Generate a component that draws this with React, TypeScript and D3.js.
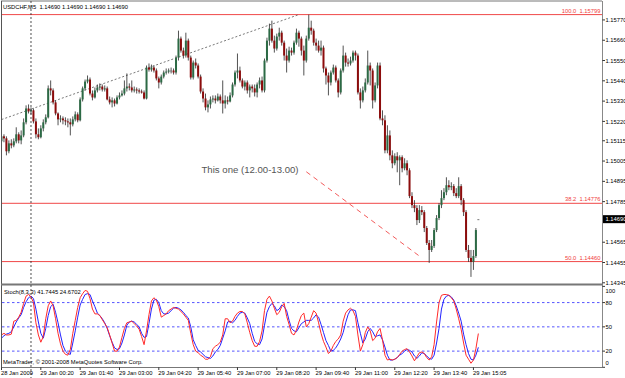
import React from 'react';
import * as d3 from 'd3';

const W = 625;
const H = 378;

// ---- price bars (USDCHF, M5) ----
const barOpen = [
  1.15112,1.15139,1.15128,1.15058,1.15101,1.15090,1.15112,1.15150,1.15117,1.15144,
  1.15215,1.15290,1.15274,1.15280,1.15220,1.15150,1.15134,1.15182,1.15215,1.15242,
  1.15399,1.15388,1.15323,1.15263,1.15231,1.15236,1.15226,1.15220,1.15215,1.15204,
  1.15231,1.15258,1.15226,1.15339,1.15399,1.15436,1.15447,1.15371,1.15350,1.15388,
  1.15404,1.15409,1.15393,1.15399,1.15339,1.15323,1.15334,1.15317,1.15350,1.15361,
  1.15371,1.15399,1.15409,1.15404,1.15388,1.15393,1.15388,1.15382,1.15377,1.15344,
  1.15512,1.15501,1.15512,1.15496,1.15453,1.15431,1.15463,1.15485,1.15490,1.15496,
  1.15496,1.15485,1.15566,1.15669,1.15604,1.15577,1.15658,1.15566,1.15458,1.15539,
  1.15523,1.15463,1.15382,1.15344,1.15296,1.15312,1.15339,1.15344,1.15334,1.15355,
  1.15334,1.15317,1.15334,1.15328,1.15361,1.15420,1.15485,1.15496,1.15442,1.15409,
  1.15431,1.15388,1.15409,1.15399,1.15377,1.15420,1.15442,1.15388,1.15550,1.15658,
  1.15723,1.15658,1.15615,1.15680,1.15701,1.15647,1.15577,1.15550,1.15604,1.15593,
  1.15647,1.15701,1.15669,1.15604,1.15550,1.15669,1.15728,1.15712,1.15647,1.15631,
  1.15604,1.15620,1.15507,1.15469,1.15431,1.15485,1.15512,1.15442,1.15377,1.15496,
  1.15577,1.15539,1.15534,1.15550,1.15593,1.15577,1.15377,1.15334,1.15388,1.15431,
  1.15523,1.15496,1.15334,1.15415,1.15523,1.15236,1.15226,1.15063,1.15144,1.15036,
  1.14993,1.15031,1.15009,1.15026,1.14966,1.14993,1.14955,1.14815,1.14766,1.14750,
  1.14685,1.14739,1.14728,1.14642,1.14561,1.14523,1.14545,1.14631,1.14696,1.14766,
  1.14804,1.14836,1.14874,1.14863,1.14869,1.14831,1.14815,1.14869,1.14793,1.14728,
  1.14523,1.14480,1.14458,1.14490,1.14690,
];
const barHigh = [
  1.15155,1.15150,1.15139,1.15117,1.15123,1.15128,1.15188,1.15161,1.15171,1.15236,
  1.15307,1.15312,1.15296,1.15290,1.15236,1.15182,1.15199,1.15231,1.15258,1.15415,
  1.15442,1.15399,1.15334,1.15269,1.15253,1.15247,1.15242,1.15236,1.15236,1.15247,
  1.15274,1.15269,1.15350,1.15409,1.15447,1.15469,1.15458,1.15388,1.15404,1.15420,
  1.15426,1.15420,1.15415,1.15409,1.15355,1.15350,1.15344,1.15361,1.15377,1.15388,
  1.15442,1.15480,1.15426,1.15442,1.15409,1.15404,1.15399,1.15393,1.15388,1.15523,
  1.15534,1.15528,1.15523,1.15507,1.15463,1.15474,1.15496,1.15507,1.15507,1.15512,
  1.15507,1.15577,1.15712,1.15680,1.15620,1.15701,1.15669,1.15577,1.15550,1.15561,
  1.15534,1.15474,1.15399,1.15371,1.15334,1.15355,1.15361,1.15361,1.15371,1.15366,
  1.15442,1.15361,1.15355,1.15377,1.15431,1.15496,1.15588,1.15517,1.15453,1.15442,
  1.15442,1.15420,1.15420,1.15420,1.15431,1.15458,1.15463,1.15561,1.15674,1.15750,
  1.15766,1.15685,1.15696,1.15728,1.15712,1.15658,1.15615,1.15625,1.15620,1.15658,
  1.15723,1.15712,1.15680,1.15631,1.15685,1.15799,1.15766,1.15723,1.15669,1.15658,
  1.15658,1.15631,1.15517,1.15485,1.15496,1.15528,1.15523,1.15453,1.15507,1.15631,
  1.15593,1.15561,1.15571,1.15604,1.15604,1.15588,1.15399,1.15409,1.15453,1.15604,
  1.15539,1.15507,1.15431,1.15539,1.15539,1.15280,1.15253,1.15199,1.15171,1.15063,
  1.15047,1.15053,1.15036,1.15036,1.15020,1.15009,1.14966,1.14836,1.14793,1.14766,
  1.14766,1.14761,1.14739,1.14653,1.14577,1.14577,1.14642,1.14712,1.14777,1.14847,
  1.14858,1.14917,1.14901,1.14890,1.14880,1.14858,1.14917,1.14880,1.14804,1.14739,
  1.14550,1.14523,1.14523,1.14642,1.14690,
];
const barLow = [
  1.15101,1.15107,1.15036,1.15047,1.15074,1.15080,1.15101,1.15101,1.15096,1.15134,
  1.15204,1.15263,1.15258,1.15209,1.15128,1.15123,1.15128,1.15166,1.15204,1.15236,
  1.15361,1.15312,1.15253,1.15199,1.15215,1.15204,1.15199,1.15188,1.15144,1.15193,
  1.15220,1.15215,1.15220,1.15328,1.15388,1.15426,1.15361,1.15334,1.15344,1.15377,
  1.15388,1.15382,1.15382,1.15334,1.15312,1.15296,1.15301,1.15312,1.15339,1.15355,
  1.15361,1.15382,1.15388,1.15377,1.15377,1.15371,1.15371,1.15371,1.15339,1.15339,
  1.15490,1.15490,1.15485,1.15442,1.15399,1.15420,1.15453,1.15474,1.15480,1.15480,
  1.15474,1.15474,1.15550,1.15593,1.15561,1.15566,1.15550,1.15447,1.15447,1.15507,
  1.15453,1.15371,1.15323,1.15280,1.15269,1.15290,1.15323,1.15317,1.15328,1.15317,
  1.15263,1.15290,1.15312,1.15323,1.15350,1.15409,1.15453,1.15431,1.15399,1.15388,
  1.15371,1.15350,1.15377,1.15355,1.15350,1.15399,1.15377,1.15377,1.15539,1.15631,
  1.15647,1.15593,1.15604,1.15658,1.15631,1.15550,1.15485,1.15539,1.15577,1.15582,
  1.15636,1.15625,1.15577,1.15469,1.15539,1.15658,1.15690,1.15631,1.15604,1.15593,
  1.15577,1.15485,1.15420,1.15361,1.15415,1.15474,1.15431,1.15350,1.15366,1.15485,
  1.15517,1.15517,1.15523,1.15539,1.15550,1.15366,1.15290,1.15323,1.15377,1.15420,
  1.15415,1.15290,1.15323,1.15399,1.15226,1.15199,1.15047,1.15047,1.15009,1.14966,
  1.14982,1.14944,1.14874,1.14944,1.14955,1.14928,1.14804,1.14750,1.14728,1.14658,
  1.14669,1.14712,1.14620,1.14550,1.14453,1.14512,1.14534,1.14620,1.14685,1.14750,
  1.14793,1.14820,1.14847,1.14847,1.14815,1.14804,1.14804,1.14766,1.14707,1.14512,
  1.14458,1.14377,1.14415,1.14480,1.14690,
];
const barClose = [
  1.15139,1.15128,1.15058,1.15101,1.15090,1.15112,1.15150,1.15117,1.15144,1.15215,
  1.15290,1.15274,1.15280,1.15220,1.15150,1.15134,1.15182,1.15215,1.15242,1.15399,
  1.15388,1.15323,1.15263,1.15231,1.15236,1.15226,1.15220,1.15215,1.15204,1.15231,
  1.15258,1.15226,1.15339,1.15399,1.15436,1.15447,1.15371,1.15350,1.15388,1.15404,
  1.15409,1.15393,1.15399,1.15339,1.15323,1.15334,1.15317,1.15350,1.15361,1.15371,
  1.15399,1.15409,1.15404,1.15388,1.15393,1.15388,1.15382,1.15377,1.15344,1.15512,
  1.15501,1.15512,1.15496,1.15453,1.15431,1.15463,1.15485,1.15490,1.15496,1.15496,
  1.15485,1.15566,1.15669,1.15604,1.15577,1.15658,1.15566,1.15458,1.15539,1.15523,
  1.15463,1.15382,1.15344,1.15296,1.15312,1.15339,1.15344,1.15334,1.15355,1.15334,
  1.15317,1.15334,1.15328,1.15361,1.15420,1.15485,1.15496,1.15442,1.15409,1.15431,
  1.15388,1.15409,1.15399,1.15377,1.15420,1.15442,1.15388,1.15550,1.15658,1.15723,
  1.15658,1.15615,1.15680,1.15701,1.15647,1.15577,1.15550,1.15604,1.15593,1.15647,
  1.15701,1.15669,1.15604,1.15550,1.15669,1.15728,1.15712,1.15647,1.15631,1.15604,
  1.15620,1.15507,1.15469,1.15431,1.15485,1.15512,1.15442,1.15377,1.15496,1.15577,
  1.15539,1.15534,1.15550,1.15593,1.15577,1.15377,1.15334,1.15388,1.15431,1.15523,
  1.15496,1.15334,1.15415,1.15523,1.15236,1.15226,1.15063,1.15144,1.15036,1.14993,
  1.15031,1.15009,1.15026,1.14966,1.14993,1.14955,1.14815,1.14766,1.14750,1.14685,
  1.14739,1.14728,1.14642,1.14561,1.14523,1.14545,1.14631,1.14696,1.14766,1.14804,
  1.14836,1.14874,1.14863,1.14869,1.14831,1.14815,1.14869,1.14793,1.14728,1.14523,
  1.14480,1.14458,1.14490,1.14631,1.14690,
];

// ---- Stochastic (8,3,3) ----
const stochMain = [
  40,42,40,40,41,57,58,62,68,79,
  88,90,87,80,55,40,31,38,60,76,
  82,76,60,42,29,20,16,15,22,42,
  58,74,86,91,95,94,85,72,66,66,
  64,59,54,49,40,30,20,20,25,37,
  48,55,56,57,54,51,47,38,28,45,
  65,82,86,83,75,62,64,66,70,72,
  74,73,72,69,66,62,58,42,28,20,
  18,15,13,10,10,13,23,26,28,31,
  40,60,60,55,57,63,67,69,69,66,
  55,43,33,26,26,32,45,70,84,88,
  82,73,65,68,75,79,63,53,42,40,
  46,56,64,67,50,54,62,70,67,55,
  42,32,25,17,20,27,32,35,40,57,
  67,71,73,70,63,40,20,28,43,50,
  45,33,36,44,48,34,15,9,10,9,
  10,12,16,20,22,23,19,14,8,13,
  18,19,17,12,9,13,28,56,80,89,
  90,90,89,86,82,72,60,47,30,15,
  10,5,9,23,41.7445,
];
const stochSignal = [
  36,39,41,42,44,50,56,61,65,74,
  81,86,88,85,72,56,42,36,48,64,
  75,78,68,55,40,27,20,17,16,30,
  45,62,77,84,90,91,90,82,75,67,
  64,60,55,48,39,31,24,22,23,30,
  40,52,56,57,56,53,50,42,37,38,
  54,72,83,84,80,70,66,66,67,70,
  73,74,73,71,68,64,61,50,34,27,
  21,19,16,13,12,11,14,19,22,27,
  36,45,56,57,55,58,63,67,68,67,
  61,54,42,32,29,28,35,52,68,75,
  79,76,70,72,77,75,70,58,48,45,
  44,49,54,56,58,58,58,61,65,62,
  53,43,33,27,20,21,24,29,35,43,
  55,65,71,71,70,55,42,30,35,44,
  48,44,38,39,40,34,25,15,9,9,
  10,12,15,17,20,22,21,19,14,11,
  14,18,17,14,11,10,15,30,48,72,
  84,88,89,87,83,76,67,57,41,28,
  17,10,9,15,24.6702,
];

// ---- axes ----
// (1.14675 sits under the black last-price box, so it is not drawn)
const priceTicks = [1.15770,1.15660,1.15550,1.15440,1.15330,1.15220,1.15115,1.15005,1.14895,1.14785,1.14565,1.14455,1.14345];
const timeLabels = ['28 Jan 2009','29 Jan 00:20','29 Jan 01:40','29 Jan 03:00','29 Jan 04:20','29 Jan 05:40','29 Jan 07:00','29 Jan 08:20','29 Jan 09:40','29 Jan 11:00','29 Jan 12:20','29 Jan 13:40','29 Jan 15:05'];
const timeLabelBars = [0,16,32,48,64,80,96,112,128,144,160,176,192];
const stochTicks = [100,80,50,20,0];
const stochLevels = [80,50,20];

// ---- objects ----
const fibRatios = ['100.0','38.2','50.0'];
const fibPrices = [1.15799,1.14776,1.14460];
const trendBars = [0,121];
const trendPrices = [1.15230,1.15799];
const noteBars = [124,170];
const notePrices = [1.14947,1.14490];
const noteText = 'This one (12.00-13.00)';
const lastPrice = 1.14690;
const crossBar = 12;

export default function App() {
  const n = barClose.length;
  const x = d3.scaleLinear().domain([0, n - 1]).range([1.5, 1.5 + (n - 1) * 2.458]);
  const y = d3.scaleLinear().domain([1.14345, 1.15799]).range([282.8, 14.6]);
  const ys = d3.scaleLinear().domain([0, 100]).range([367.3, 286.4]);
  const font = '"Liberation Sans", Arial, sans-serif';
  const fs = 5.8;

  const line = d3.line<number>().x((_, i) => x(i)).y((v) => ys(v));
  const trend = d3.line<number>().x((b) => x(b)).y((_, i) => y(trendPrices[i]));
  const note = d3.line<number>().x((b) => x(b)).y((_, i) => y(notePrices[i]));

  const bars = d3.range(n);

  return (
    <svg width={W} height={H} style={{ position: 'fixed', left: 0, top: 0, background: '#fff' }} fontFamily={font}>
      <rect x={0} y={0} width={W} height={H} fill="#fff" />
      <defs>
        <clipPath id="main"><rect x={2} y={2} width={600} height={281.5} /></clipPath>
        <clipPath id="sub"><rect x={2} y={286} width={600} height={81.5} /></clipPath>
      </defs>

      {/* frame */}
      <line x1={1} x2={602} y1={1} y2={1} stroke="#777" strokeWidth={1} />
      <line x1={1.5} x2={1.5} y1={1} y2={367.5} stroke="#555" strokeWidth={1} />
      <line x1={602.5} x2={602.5} y1={1} y2={367.5} stroke="#888" strokeWidth={1} />
      <rect x={1} y={283.5} width={601.5} height={2} fill="#777" />
      <line x1={1} x2={602.5} y1={367.5} y2={367.5} stroke="#777" strokeWidth={1} />

      {/* main chart */}
      <g clipPath="url(#main)">
        {fibPrices.map((p, i) => (
          <line key={'f' + i} x1={2} x2={602} y1={y(p)} y2={y(p)} stroke="#f04848" strokeWidth={1} />
        ))}
        <path d={trend(trendBars) || ''} fill="none" stroke="#555" strokeWidth={0.8} strokeDasharray="2,2" />
        <path d={note(noteBars) || ''} fill="none" stroke="#f04848" strokeWidth={0.9} strokeDasharray="5,4" />
        {bars.map((i) => {
          const o = barOpen[i], c = barClose[i];
          const xi = x(i);
          const top = y(Math.max(o, c));
          const bot = y(Math.min(o, c));
          const up = c > o;
          const down = c < o;
          return (
            <g key={i}>
              <line x1={xi} x2={xi} y1={y(barHigh[i])} y2={y(barLow[i])} stroke="#333" strokeWidth={0.85} />
              <rect x={xi - 1} y={top} width={2} height={Math.max(1, bot - top)}
                fill={up ? '#2c6a45' : down ? '#8c0c0c' : '#777'} />
            </g>
          );
        })}
      </g>
      {fibPrices.map((p, i) => (
        <text key={'fl' + i} x={600.5} y={y(p) - 2} fontSize={fs} fill="#f03c3c" textAnchor="end" style={{ whiteSpace: 'pre' }}>
          {fibRatios[i] + '  ' + p.toFixed(5)}
        </text>
      ))}
      <text x={201.5} y={172.5} fontSize={9.6} fill="#555">{noteText}</text>
      <text x={3} y={8.5} fontSize={fs} fill="#000" style={{ whiteSpace: 'pre' }}>
        {'USDCHF,M5  ' + [lastPrice, lastPrice, lastPrice, lastPrice].map((v) => v.toFixed(5)).join(' ')}
      </text>

      {/* price axis */}
      {priceTicks.map((p, i) => (
        <g key={'pt' + i}>
          <line x1={602.5} x2={605} y1={y(p)} y2={y(p)} stroke="#000" strokeWidth={0.8} />
          <text x={605.5} y={y(p) + 2.1} fontSize={fs} fill="#000">{p.toFixed(5)}</text>
        </g>
      ))}
      <rect x={603} y={y(lastPrice) - 4} width={22} height={8} fill="#000" />
      <text x={605.5} y={y(lastPrice) + 2.1} fontSize={fs} fill="#fff">{lastPrice.toFixed(5)}</text>

      {/* stochastic sub-window */}
      <g clipPath="url(#sub)">
        {stochLevels.map((v) => (
          <line key={'sl' + v} x1={2} x2={602} y1={ys(v)} y2={ys(v)} stroke="#2b2bff" strokeWidth={0.8} strokeDasharray="2.5,2.5" />
        ))}
        <path d={line(stochSignal) || ''} fill="none" stroke="#2222ff" strokeWidth={1} />
        <path d={line(stochMain) || ''} fill="none" stroke="#ff2a2a" strokeWidth={1} />
      </g>
      <text x={4} y={293.8} fontSize={fs} fill="#000">Stoch(8,3,3) 41.7445 24.6702</text>
      <text x={3} y={364.3} fontSize={fs} fill="#000">MetaTrader, © 2001-2008 MetaQuotes Software Corp.</text>
      {stochTicks.map((v) => {
        const yy = v === 100 ? ys(v) + 4 : v === 0 ? ys(v) - 4 : ys(v);
        return (
          <g key={'st' + v}>
            <line x1={602.5} x2={605} y1={ys(v)} y2={ys(v)} stroke="#000" strokeWidth={0.8} />
            <text x={605.5} y={yy + 2.1} fontSize={fs} fill="#000">{v}</text>
          </g>
        );
      })}

      {/* cross-hair vertical */}
      <line x1={x(crossBar)} x2={x(crossBar)} y1={1} y2={H} stroke="#222" strokeWidth={0.8} strokeDasharray="2,2" />

      {/* time axis */}
      {timeLabelBars.map((b, i) => (
        <g key={'tl' + i}>
          <line x1={x(b)} x2={x(b)} y1={367.5} y2={370} stroke="#000" strokeWidth={0.8} />
          <text x={x(b) - 0.5} y={374.8} fontSize={fs} fill="#000">{timeLabels[i]}</text>
        </g>
      ))}
    </svg>
  );
}
